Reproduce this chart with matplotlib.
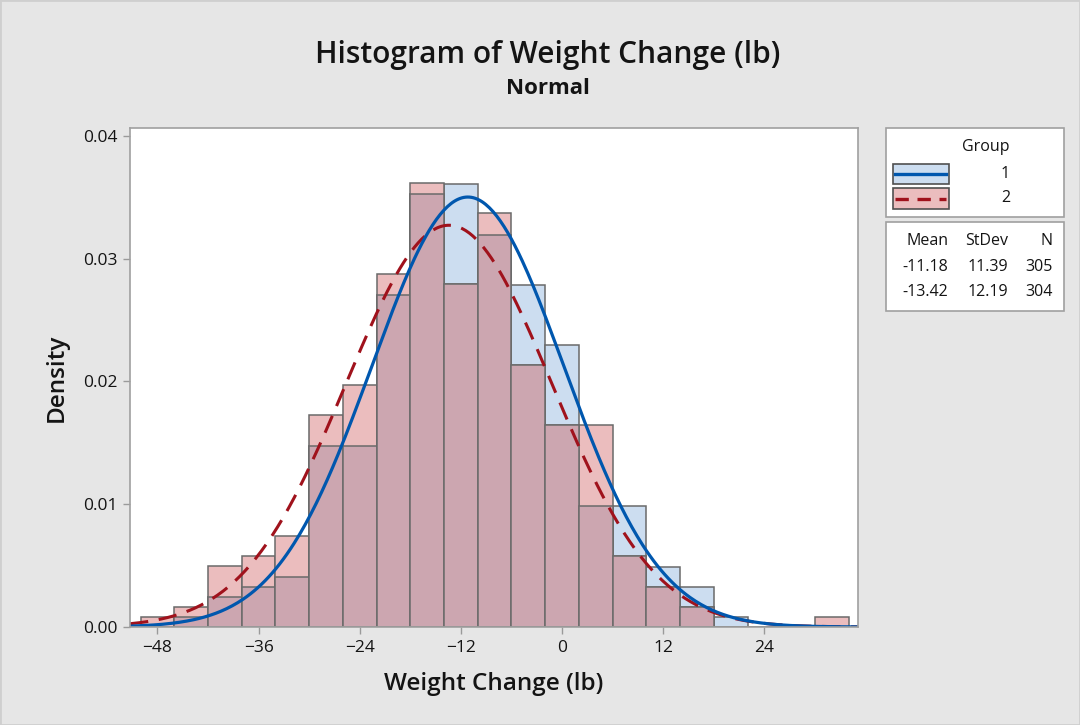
import numpy as np
import matplotlib.pyplot as plt
from matplotlib.patches import Rectangle
from matplotlib.lines import Line2D

plt.rcParams['font.family'] = ['Open Sans', 'DejaVu Sans']

# --------------------------------------------------
# Data (counts per 4 lb bin)
# --------------------------------------------------
bin_edges = np.arange(-50, 35, 4)          # -50, -46, ..., 34
group_labels = ["1", "2"]
counts_g1 = [0, 1, 3, 4, 5, 18, 18, 33, 43, 44, 39, 34, 28, 12, 12, 6, 4, 1, 0, 0, 0]
counts_g2 = [1, 2, 6, 7, 9, 21, 24, 35, 44, 34, 41, 26, 20, 20, 7, 4, 2, 0, 0, 0, 1]
means = [-11.18, -13.42]
stdevs = [11.39, 12.19]
ns = [305, 304]
x_ticks = [-48, -36, -24, -12, 0, 12, 24]
y_ticks = [0.00, 0.01, 0.02, 0.03, 0.04]

# colours
blue_fill = "#CCDDF0"
red_fill = "#EBBDBE"
mix_fill = "#CCA6B0"
blue_line = "#0057AE"
red_line = "#A0121C"
edge = "#6A6A6A"
bg = "#E6E6E6"
txt_c = "#141414"

width = 4
left = bin_edges[:-1]
dens1 = np.array(counts_g1) / (ns[0] * width)
dens2 = np.array(counts_g2) / (ns[1] * width)
overlap = np.minimum(dens1, dens2)

fig = plt.figure(figsize=(10.8, 7.25), dpi=100, facecolor=bg)
ax = fig.add_axes([130 / 1080, 1 - 627 / 725, 728 / 1080, 499 / 725])
ax.set_facecolor("white")

ax.bar(left, dens1, width=width, align="edge", color=blue_fill, edgecolor=edge, linewidth=1.1)
ax.bar(left, dens2, width=width, align="edge", color=red_fill, edgecolor=edge, linewidth=1.1)
ax.bar(left, overlap, width=width, align="edge", color=mix_fill, edgecolor=edge, linewidth=1.1)

# fitted normal curves
xs = np.linspace(-51.25, 35.1, 400)
pdf1 = np.exp(-0.5 * ((xs - means[0]) / stdevs[0]) ** 2) / (stdevs[0] * np.sqrt(2 * np.pi))
pdf2 = np.exp(-0.5 * ((xs - means[1]) / stdevs[1]) ** 2) / (stdevs[1] * np.sqrt(2 * np.pi))
ax.plot(xs, pdf2, color=red_line, linewidth=2.2, linestyle=(0, (6, 3.5)))
ax.plot(xs, pdf1, color=blue_line, linewidth=2.3)

ax.set_xlim(-51.25, 35.1)
ax.set_ylim(0, 0.04065)
ax.set_xticks(x_ticks)
ax.set_yticks(y_ticks)
ax.set_yticklabels([f"{v:.2f}" for v in y_ticks])
ax.tick_params(axis="both", direction="out", length=5, width=1, color="#9A9A9A",
               labelsize=12.5, labelcolor=txt_c, pad=4)
for s in ax.spines.values():
    s.set_color("#A0A0A0")
    s.set_linewidth(1.2)

ax.set_xlabel("Weight Change (lb)", fontsize=17.5, fontweight="semibold", color=txt_c, labelpad=12)
ax.set_ylabel("Density", fontsize=17.5, fontweight="semibold", color=txt_c, labelpad=10)

fig.text(548 / 1080, 1 - 55 / 725, "Histogram of Weight Change (lb)", ha="center", va="center",
         fontsize=21.5, fontweight="semibold", color=txt_c)
fig.text(548 / 1080, 1 - 89 / 725, "Normal", ha="center", va="center",
         fontsize=16, fontweight="bold", color=txt_c)


def px(x, y):
    return x / 1080, 1 - y / 725


# legend box 1: groups
fig.patches.append(Rectangle(px(886, 216.5), 178 / 1080, 89 / 725, transform=fig.transFigure,
                             facecolor="white", edgecolor="#A0A0A0", linewidth=1.2))
fig.text(*px(986, 147), "Group", ha="center", va="center", fontsize=11.5, color=txt_c)
styles = [(blue_fill, blue_line, "-"), (red_fill, red_line, (0, (4, 2.6)))]
for i, (fill, lc, ls) in enumerate(styles):
    yc = 174 + i * 24.5
    fig.patches.append(Rectangle(px(892.5, yc + 10), 56 / 1080, 20 / 725, transform=fig.transFigure,
                                 facecolor=fill, edgecolor="#505050", linewidth=1.2))
    fig.lines.append(Line2D([895 / 1080, 946 / 1080], [1 - yc / 725, 1 - yc / 725],
                            transform=fig.transFigure, color=lc, linewidth=2.4, linestyle=ls))
    fig.text(*px(1010, yc), group_labels[i], ha="right", va="center", fontsize=11.5, color=txt_c)

# legend box 2: summary stats
fig.patches.append(Rectangle(px(886, 310.5), 178 / 1080, 89 / 725, transform=fig.transFigure,
                             facecolor="white", edgecolor="#A0A0A0", linewidth=1.2))
col_x = [948.5, 1008.5, 1053]
for txt, cx in zip(["Mean", "StDev", "N"], col_x):
    fig.text(*px(cx, 241), txt, ha="right", va="center", fontsize=11.5, color=txt_c)
for i in range(2):
    yr = 267 + i * 25
    row = [f"{means[i]:.2f}", f"{stdevs[i]:.2f}", f"{ns[i]}"]
    for txt, cx in zip(row, col_x):
        fig.text(*px(cx, yr), txt, ha="right", va="center", fontsize=11.5, color=txt_c)

fig.patches.append(Rectangle((0, 0), 1, 1, transform=fig.transFigure, fill=False,
                             edgecolor="#CFCFCF", linewidth=2))

fig.savefig("out.png", dpi=100, facecolor=bg)
